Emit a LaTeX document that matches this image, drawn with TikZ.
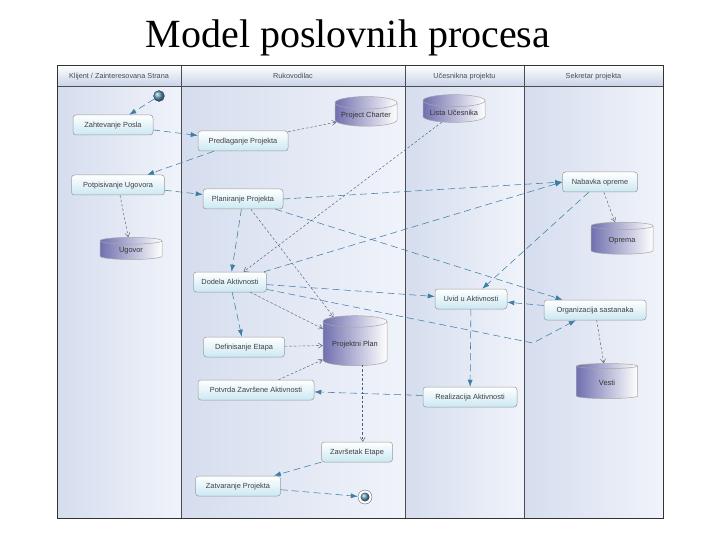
\documentclass[tikz,border=0pt]{standalone}
\usepackage{fontspec}
\setmainfont{Liberation Serif}
\setsansfont{Liberation Sans}
\usepackage{tikz}
\usetikzlibrary{arrows.meta,positioning,calc,shapes.geometric}
\definecolor{tok}{HTML}{3D7EA6}
\definecolor{objlin}{HTML}{4E5E78}
\definecolor{traka}{HTML}{D5DDEE}
\definecolor{trakab}{HTML}{F0F3FA}
\definecolor{zaglav}{HTML}{C9D3E8}
\definecolor{cilj}{HTML}{7070B0}
\definecolor{akcdno}{HTML}{CBE8F3}
\tikzset{
  lane/.style={draw=black!70, line width=0.6pt, left color=traka, right color=trakab},
  head/.style={draw=black!70, line width=0.6pt, top color=white, bottom color=zaglav,
    font=\sffamily\fontsize{7.3}{8}\selectfont, text=black!70,
    text height=1.5ex, text depth=.3ex},
  akcija/.style={rectangle, rounded corners=3pt, draw=black!40, line width=0.5pt,
    top color=white, bottom color=akcdno, font=\sffamily\fontsize{7.4}{8}\selectfont,
    text=black!75, minimum height=20pt, inner xsep=5pt,
    text height=1.5ex, text depth=.3ex},
  baza/.style={cylinder, shape border rotate=90, aspect=0.22, draw=black!35,
    line width=0.5pt, left color=cilj, right color=white,
    font=\sffamily\fontsize{7.4}{8}\selectfont, text=black!80},
  tok/.style={draw=tok, line width=0.55pt, dash pattern=on 7pt off 4pt,
    -{Latex[length=7pt,width=5pt]}},
  obj/.style={draw=objlin, line width=0.45pt, dash pattern=on 2.5pt off 2pt,
    -{Straight Barb[length=4pt,width=5pt]}},
}
\begin{document}
\begin{tikzpicture}[x=1pt, y=-1pt]
  \useasboundingbox (0,0) rectangle (720,540);
  % naslov
  \node[font=\fontsize{40}{44}\selectfont] (naslov) at (348,38) {Model poslovnih procesa};
  % trake
  \draw[lane] (57,86) rectangle (181,518);
  \draw[lane] (181,86) rectangle (405,518);
  \draw[lane] (405,86) rectangle (524,518);
  \draw[lane] (524,86) rectangle (663,518);
  \node[head, minimum width=124pt, minimum height=21pt] (h1) at (119,75.5) {Klijent / Zainteresovana Strana};
  \node[head, minimum width=224pt, minimum height=21pt] (h2) at (293,75.5) {Rukovodilac};
  \node[head, minimum width=119pt, minimum height=21pt] (h3) at (464.5,75.5) {Učesnikna projektu};
  \node[head, minimum width=139pt, minimum height=21pt] (h4) at (593.5,75.5) {Sekretar projekta};
  \draw[black!80, line width=0.9pt] (57,65) rectangle (663,518);

  % pocetak i kraj
  \node[circle, draw=tok!70!black, ball color=tok!80, minimum size=11pt, inner sep=0pt] (start) at (159,96) {};
  \node[circle, draw=black!60, fill=white, minimum size=14pt, inner sep=0pt] (kraj) at (365,497) {};
  \node[circle, ball color=tok!80, minimum size=9pt, inner sep=0pt] at (kraj) {};

  % akcije
  \node[akcija, minimum width=80pt] (zahtev) at (113,125) {Zahtevanje Posla};
  \node[akcija, minimum width=90pt] (predlog) at (243,141) {Predlaganje Projekta};
  \node[akcija, minimum width=93pt] (potpis) at (118,185) {Potpisivanje Ugovora};
  \node[akcija, minimum width=80pt] (planir) at (243,199) {Planiranje Projekta};
  \node[akcija, minimum width=75pt] (nabavka) at (600,182) {Nabavka opreme};
  \node[akcija, minimum width=73pt] (dodela) at (230,282) {Dodela Aktivnosti};
  \node[akcija, minimum width=72pt] (uvid) at (471,299) {Uvid u Aktivnosti};
  \node[akcija, minimum width=102pt] (organiz) at (595,310) {Organizacija sastanaka};
  \node[akcija, minimum width=81pt] (etapa) at (244,347) {Definisanje Etapa};
  \node[akcija, minimum width=116pt] (potvrda) at (256,390) {Potvrda Završene Aktivnosti};
  \node[akcija, minimum width=94pt] (realiz) at (470,397) {Realizacija Aktivnosti};
  \node[akcija, minimum width=71pt] (zavrsetak) at (357,452) {Završetak Etape};
  \node[akcija, minimum width=85pt] (zatvar) at (238,486) {Zatvaranje Projekta};

  % skladista
  \node[baza, minimum width=62pt, minimum height=25pt] (charter) at (366,116) {Project Charter};
  \node[baza, minimum width=62pt, minimum height=27pt] (lista) at (454,113) {Lista Učesnika};
  \node[baza, minimum width=62pt, minimum height=22pt] (ugovor) at (131,251) {Ugovor};
  \node[baza, minimum width=62pt, minimum height=32pt] (oprema) at (622,241) {Oprema};
  \node[baza, minimum width=64pt, minimum height=50pt] (pplan) at (355,345) {Projektni Plan};
  \node[baza, minimum width=61pt, minimum height=35pt] (vesti) at (607,383) {Vesti};

  \coordinate (lom) at (533,343);

  % tokovi
  \draw[tok] (start) -- (zahtev);
  \draw[tok] (zahtev) -- (predlog);
  \draw[tok] (predlog) -- (potpis);
  \draw[tok] (potpis) -- (planir);
  \draw[tok] (planir) -- (dodela);
  \draw[tok] (planir.east) -- (nabavka.west);
  \draw[tok] (planir) -- (organiz);
  \draw[tok] (dodela) -- (nabavka.west);
  \draw[tok] (nabavka) -- (uvid);
  \draw[tok] (dodela) -- (uvid);
  \draw[tok] (dodela) -- (lom) -- (organiz);
  \draw[tok] (organiz) -- (uvid);
  \draw[tok] (dodela) -- (etapa);
  \draw[tok] (uvid) -- (realiz);
  \draw[tok] (realiz) -- (potvrda);
  \draw[tok] (zavrsetak) -- (zatvar);
  \draw[tok] (zatvar) -- (kraj);

  % objekti
  \draw[obj] (predlog) -- (charter);
  \draw[obj] (potpis) -- (ugovor);
  \draw[obj] (lista) -- (dodela);
  \draw[obj] (planir) -- (pplan);
  \draw[obj] (dodela) -- (pplan);
  \draw[obj] (nabavka) -- (oprema);
  \draw[obj] (organiz) -- (vesti);
  \draw[obj] (etapa) -- (pplan);
  \draw[obj] (potvrda) -- (pplan);
  \draw[obj] (pplan.south east) ++(-12,0) coordinate (pdno) (pdno) -- (zavrsetak.north -| pdno);
\end{tikzpicture}
\end{document}
